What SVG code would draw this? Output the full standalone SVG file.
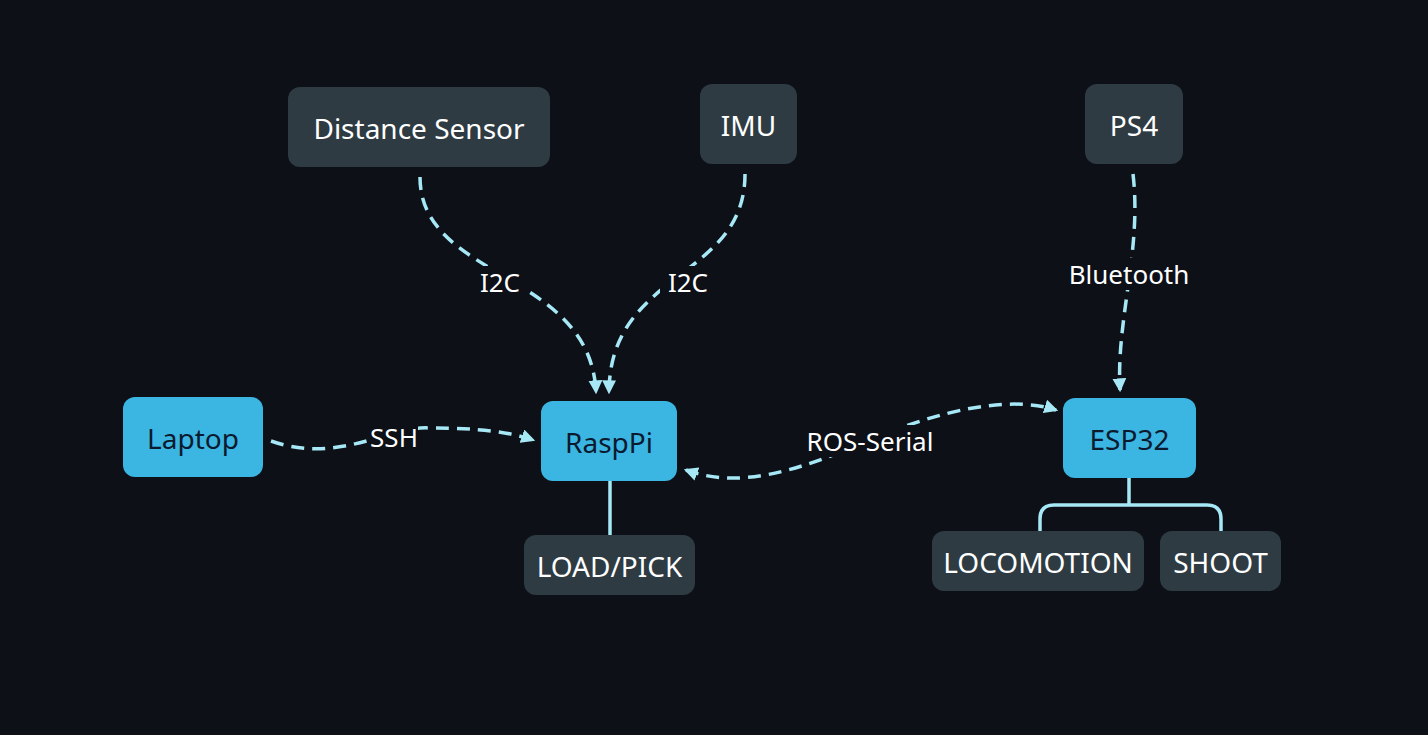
<svg xmlns="http://www.w3.org/2000/svg" width="1428" height="735" viewBox="0 0 1428 735">
<defs>
<style>
.dark{fill:#2e3b43}
.blue{fill:#3bb5e2}
.tl{font-family:"Noto Sans",Lato,sans-serif;font-size:28px;fill:#ffffff;text-anchor:middle;dominant-baseline:central}
.tb{font-family:"Noto Sans",Lato,sans-serif;font-size:28px;fill:#0b1a2e;text-anchor:middle;dominant-baseline:central}
.el{font-family:"Noto Sans",Lato,sans-serif;font-size:26px;fill:#ffffff;text-anchor:middle;dominant-baseline:central}
.dash{fill:none;stroke:#a6e8f6;stroke-width:3.5;stroke-dasharray:13 8}
.solid{fill:none;stroke:#a6e8f6;stroke-width:3.5}
.lbg{fill:#0d1017}
</style>
<marker id="ah" viewBox="0 0 12 12" refX="10" refY="6" markerWidth="14" markerHeight="14" markerUnits="userSpaceOnUse" orient="auto-start-reverse">
<path d="M0,0 L12,6 L0,12 z" fill="#a6e8f6"/>
</marker>
</defs>
<rect width="1428" height="735" fill="#0d1017"/>
<g id="connectors">
<path class="dash" d="M420,177 C420,280 590,270 596,392" marker-end="url(#ah)"/>
<path class="dash" d="M745,174 C745,280 610,270 609,392" marker-end="url(#ah)"/>
<path class="dash" d="M1133,174 C1142,250 1116,320 1120,390" marker-end="url(#ah)"/>
<path class="dash" d="M271,441 C340,465 390,425 430,428 C480,428 510,432 533,440" marker-end="url(#ah)"/>
<path class="dash" d="M686,470 C740,490 800,470 870,440 C940,410 1010,395 1056,410" marker-start="url(#ah)" marker-end="url(#ah)"/>
<path class="solid" d="M610,481 V535"/>
<path class="solid" d="M1129,478 V505 M1040,531 V519 Q1040,505 1054,505 H1207 Q1221,505 1221,519 V531"/>
<rect class="lbg" x="472" y="266" width="56" height="32"/>
<rect class="lbg" x="660" y="266" width="56" height="32"/>
<rect class="lbg" x="1062" y="258" width="134" height="32"/>
<rect class="lbg" x="372" y="424" width="46" height="26"/>
<rect class="lbg" x="800" y="425" width="140" height="32"/>
<text class="el" x="500" y="282">I2C</text>
<text class="el" x="688" y="282">I2C</text>
<text class="el" x="1129" y="274">Bluetooth</text>
<text class="el" x="394" y="437">SSH</text>
<text class="el" x="870" y="441">ROS-Serial</text>
</g>
<g id="distance-sensor"><rect class="dark" x="288" y="87" width="262" height="80" rx="12"/><text class="tl" x="419" y="128">Distance Sensor</text></g>
<g id="imu"><rect class="dark" x="700" y="84" width="97" height="80" rx="12"/><text class="tl" x="748.5" y="125">IMU</text></g>
<g id="ps4"><rect class="dark" x="1085" y="84" width="98" height="80" rx="12"/><text class="tl" x="1134" y="125">PS4</text></g>
<g id="laptop"><rect class="blue" x="123" y="397" width="140" height="80" rx="12"/><text class="tb" x="193" y="438">Laptop</text></g>
<g id="raspi"><rect class="blue" x="541" y="401" width="136" height="80" rx="12"/><text class="tb" x="609" y="442">RaspPi</text></g>
<g id="esp32"><rect class="blue" x="1063" y="398" width="133" height="80" rx="12"/><text class="tb" x="1129.5" y="439">ESP32</text></g>
<g id="load-pick"><rect class="dark" x="524" y="535" width="171" height="60" rx="12"/><text class="tl" x="609.5" y="566">LOAD/PICK</text></g>
<g id="locomotion"><rect class="dark" x="932" y="531" width="212" height="60" rx="12"/><text class="tl" x="1038" y="562">LOCOMOTION</text></g>
<g id="shoot"><rect class="dark" x="1160" y="531" width="121" height="60" rx="12"/><text class="tl" x="1220.5" y="562">SHOOT</text></g>
</svg>
